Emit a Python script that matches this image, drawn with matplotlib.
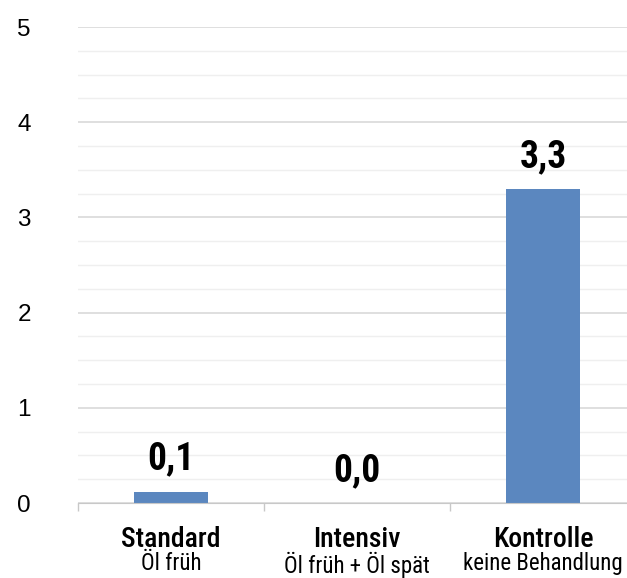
import matplotlib.pyplot as plt
import numpy as np
from matplotlib.ticker import MultipleLocator, FixedLocator

# ------------ data -------------------------------------------------
categories = ['Standard', 'Intensiv', 'Kontrolle']
subtitles = ['Öl früh', 'Öl früh + Öl spät', 'keine Behandlung']
values = [0.12, 0.0, 3.3]
value_labels = ['0,1', '0,0', '3,3']

narrow = ['Roboto Condensed', 'DejaVu Sans']
bar_color = '#5b87bf'

fig = plt.figure(figsize=(6.27, 5.78), dpi=100)
ax = fig.add_axes([78 / 627, 1 - 503 / 578, 558 / 627, (503 - 27) / 578])

x = np.arange(len(categories))
ax.bar(x, values, width=0.4, color=bar_color, zorder=3)

# value labels above the bars
for xi, v, lab in zip(x, values, value_labels):
    ax.annotate(lab, (xi, v), xytext=(0, 10), textcoords='offset points',
                ha='center', va='bottom', fontsize=27, fontweight='bold',
                family=narrow, zorder=4)

ax.set_xlim(-0.5, 2.5)
ax.set_ylim(0, 5)

# ---- gridlines: major every 1, minor every 0.25 ----
ax.yaxis.set_major_locator(MultipleLocator(1))
ax.yaxis.set_minor_locator(MultipleLocator(0.25))
ax.grid(axis='y', which='major', color='#d9d9d9', linewidth=1.2, zorder=0)
ax.grid(axis='y', which='minor', color='#efefef', linewidth=1.0, zorder=0)
ax.tick_params(axis='y', which='both', length=0, labelsize=17.5, pad=34)
for t in ax.get_yticklabels():
    t.set_family(['Liberation Sans', 'DejaVu Sans'])

# category boundary ticks below the axis
ax.xaxis.set_major_locator(FixedLocator(x))
ax.xaxis.set_minor_locator(FixedLocator([-0.5, 0.5, 1.5, 2.5]))
ax.tick_params(axis='x', which='major', length=0, labelbottom=False)
ax.tick_params(axis='x', which='minor', length=6, color='#c8c8c8', width=1)

for side in ['top', 'right', 'left']:
    ax.spines[side].set_visible(False)
ax.spines['bottom'].set_color('#c8c8c8')
ax.spines['bottom'].set_zorder(5)

# two line category labels
trans = ax.get_xaxis_transform()
for xi, name, sub in zip(x, categories, subtitles):
    ax.text(xi, -0.048, name, transform=trans, ha='center', va='top',
            fontsize=20, fontweight='medium', family=narrow)
    ax.text(xi, -0.103, sub, transform=trans, ha='center', va='top',
            fontsize=16.5, family=narrow)

fig.savefig('out.png', dpi=100)
